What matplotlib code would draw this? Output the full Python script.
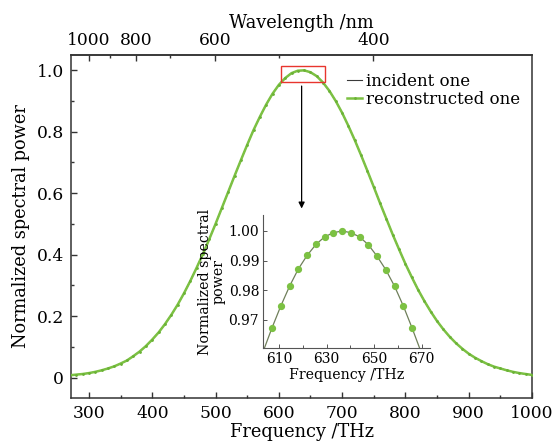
import numpy as np
import matplotlib
matplotlib.use("Agg")
import matplotlib.pyplot as plt
from matplotlib.patches import Rectangle
from matplotlib.ticker import MultipleLocator, FixedLocator

# ---- data ----
freq_thz = list(range(270, 1001, 10))
incident_power = [0.008, 0.010, 0.012, 0.015, 0.019, 0.024, 0.030, 0.037, 0.046, 0.056,
                  0.070, 0.085, 0.103, 0.124, 0.147, 0.174, 0.204, 0.237, 0.274, 0.314,
                  0.357, 0.402, 0.450, 0.500, 0.552, 0.604, 0.656, 0.707, 0.757, 0.805,
                  0.848, 0.888, 0.923, 0.952, 0.974, 0.990, 0.998, 0.999, 0.993, 0.980,
                  0.959, 0.932, 0.899, 0.861, 0.818, 0.772, 0.723, 0.672, 0.620, 0.567,
                  0.516, 0.465, 0.417, 0.370, 0.327, 0.286, 0.249, 0.215, 0.184, 0.157,
                  0.133, 0.112, 0.094, 0.078, 0.065, 0.054, 0.044, 0.036, 0.030, 0.024,
                  0.019, 0.015, 0.012, 0.009]
reconstructed_power = list(incident_power)

inset_freq = [607.1, 610.8, 614.5, 618.1, 621.8, 625.6, 629.2, 632.8, 636.6,
              640.3, 643.9, 647.6, 651.2, 654.9, 658.6, 662.3, 665.9]
inset_recon = [0.9673, 0.9747, 0.9814, 0.9871, 0.9917, 0.9955, 0.9980, 0.9994, 1.0000,
               0.9994, 0.9980, 0.9953, 0.9915, 0.9869, 0.9813, 0.9746, 0.9673]
inset_inc_freq = [603.0] + inset_freq + [670.0]
inset_inc = [0.9585] + inset_recon + [0.9585]

bottom_ticks = [300, 400, 500, 600, 700, 800, 900, 1000]
wavelength_major = [1000, 800, 600, 400]
wavelength_minor = [900, 700, 500]
y_ticks = [0, 0.2, 0.4, 0.6, 0.8, 1.0]
y_tick_labels = ["0", "0.2", "0.4", "0.6", "0.8", "1.0"]
inset_xticks = [610, 630, 650, 670]
inset_yticks = [0.97, 0.98, 0.99, 1.00]

GREEN = "#7cc143"
DARK = "#3a3a3a"
SPINE = "#333333"

plt.rcParams['font.family'] = ['DejaVu Serif']
plt.rcParams['mathtext.fontset'] = 'dejavuserif'

fig = plt.figure(figsize=(5.57, 4.48), dpi=100)
ax = fig.add_axes([71/557, 1-398/448, 461/557, 343/448])

ax.plot(freq_thz, incident_power, color=DARK, lw=0.8, label="incident one", zorder=2)
ax.plot(freq_thz, reconstructed_power, color=GREEN, lw=1.8, marker='o', ms=1.0,
        mfc="#6ab236", mec="#6ab236", label="reconstructed one", zorder=3)

ax.set_xlim(271.6, 1000)
ax.set_ylim(-0.066, 1.049)
ax.set_xticks(bottom_ticks)
ax.xaxis.set_minor_locator(MultipleLocator(50))
ax.set_yticks(y_ticks)
ax.set_yticklabels(y_tick_labels)
ax.yaxis.set_minor_locator(MultipleLocator(0.1))
ax.tick_params(which='both', direction='in', top=False, right=False,
               labelsize=12.3, color=SPINE, width=1.0, pad=5)
ax.tick_params(which='major', length=4.5)
ax.tick_params(which='minor', length=2.5)
for s in ax.spines.values():
    s.set_linewidth(1.1)
    s.set_color(SPINE)
ax.set_xlabel("Frequency /THz", fontsize=12.8, labelpad=1)
ax.set_ylabel("Normalized spectral power", fontsize=12.8, labelpad=5)

sec = ax.secondary_xaxis('top', functions=(lambda x: 299792.458/np.maximum(x, 1e-9),
                                           lambda x: 299792.458/np.maximum(x, 1e-9)))
sec.xaxis.set_major_locator(FixedLocator(wavelength_major))
sec.xaxis.set_minor_locator(FixedLocator(wavelength_minor))
sec.set_xticklabels([str(w) for w in wavelength_major])
sec.tick_params(which='both', direction='in', labelsize=12.3, color=SPINE, width=1.0, pad=4)
sec.tick_params(which='major', length=4.5)
sec.tick_params(which='minor', length=2.5)
sec.spines['top'].set_linewidth(1.1)
sec.spines['top'].set_color(SPINE)
sec.set_xlabel("Wavelength /nm", fontsize=12.8, labelpad=3)

leg = ax.legend(loc='upper left', bbox_to_anchor=(0.585, 0.967), frameon=False,
                fontsize=12.0, handlelength=0.9, handletextpad=0.2,
                labelspacing=0.05, borderaxespad=0)

# red rectangle and arrow
ax.add_patch(Rectangle((603.3, 0.960), 672.2-603.3, 1.013-0.960, fill=False,
                       ec="#e8352e", lw=1.0, zorder=4))
ax.annotate("", xy=(636, 0.55), xytext=(636, 0.948),
            arrowprops=dict(arrowstyle='-|>', color='black', lw=0.9,
                            mutation_scale=9, shrinkA=0, shrinkB=0))

# inset
axi = fig.add_axes([263.3/557, 1-348.3/448, 166.7/557, 133.3/448])
axi.plot(inset_inc_freq, inset_inc, color="#6f7f5a", lw=0.9, zorder=2)
axi.plot(inset_freq, inset_recon, ls='none', marker='o', ms=4.2, mfc=GREEN,
         mec=GREEN, zorder=3)
axi.set_xlim(603.4, 673.5)
axi.set_ylim(0.9603, 1.0054)
axi.set_xticks(inset_xticks)
axi.xaxis.set_minor_locator(MultipleLocator(10))
axi.set_yticks(inset_yticks)
axi.set_yticklabels(["0.97", "0.98", "0.99", "1.00"])
axi.spines['top'].set_visible(False)
axi.spines['right'].set_visible(False)
for k in ('left', 'bottom'):
    axi.spines[k].set_linewidth(0.8)
    axi.spines[k].set_color("#555555")
axi.tick_params(which='both', direction='in', labelsize=10, color="#555555",
                width=0.7, pad=3)
axi.tick_params(which='major', length=3)
axi.tick_params(which='minor', length=2)
axi.patch.set_alpha(0)
axi.set_xlabel("Frequency /THz", fontsize=10.2, labelpad=1)
axi.set_ylabel("Normalized spectral\npower", fontsize=10.2, labelpad=2, linespacing=0.95)

fig.savefig("out.png", dpi=100)
